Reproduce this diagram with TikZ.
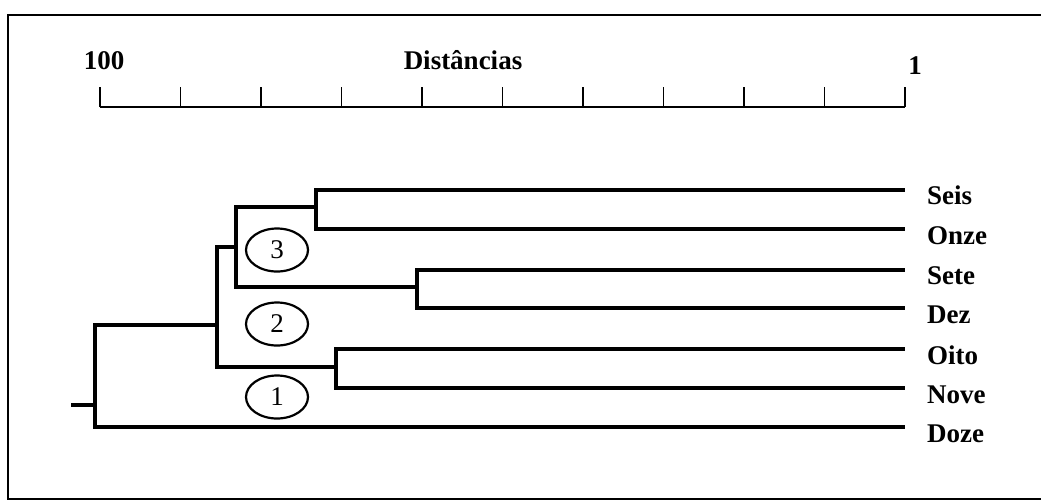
\documentclass[tikz,border=0pt]{standalone}
\usepackage{fontspec}
\setmainfont{Liberation Serif}
\usetikzlibrary{shapes.geometric}
\begin{document}
\begin{tikzpicture}[x=1pt,y=-1pt,
  txt/.style={font=\fontsize{27}{30}\selectfont\bfseries,inner sep=0pt},
  leaflab/.style={txt,anchor=base west},
  branch/.style={line width=3.2pt,line cap=rect,line join=miter},
  axisline/.style={line width=1.8pt},
  clus/.style={ellipse,draw,line width=2.2pt,minimum width=62pt,minimum height=43pt,inner sep=0pt,font=\fontsize{27}{30}\selectfont}
]
\useasboundingbox (0,0) rectangle (1041,501);
% frame
\draw[line width=1.5pt] (1041,15) -- (8,15) -- (8,499) -- (1041,499);
% scale
\node[txt,anchor=base] (l100) at (104,69) {100};
\node[txt,anchor=base] (ldist) at (463,69) {Distâncias};
\node[txt,anchor=base] (l1) at (915,74) {1};
\coordinate (a0) at (100,107);
\coordinate (a1) at (905,107);
\draw[axisline] (a0) -- (a1);
\foreach \i in {0,...,10}{
  \draw[axisline] ({100+80.5*\i},107) -- ({100+80.5*\i},87);
}
% leaves
\coordinate (Seis) at (903,190);
\coordinate (Onze) at (903,229);
\coordinate (Sete) at (903,270);
\coordinate (Dez) at (903,308);
\coordinate (Oito) at (903,349);
\coordinate (Nove) at (903,388);
\coordinate (Doze) at (903,427);
\node[leaflab] (tSeis) at (927,204) {Seis};
\node[leaflab] (tOnze) at (927,244) {Onze};
\node[leaflab] (tSete) at (927,284) {Sete};
\node[leaflab] (tDez) at (927,323) {Dez};
\node[leaflab] (tOito) at (927,364) {Oito};
\node[leaflab] (tNove) at (927,403) {Nove};
\node[leaflab] (tDoze) at (927,442) {Doze};
% junctions
\coordinate (j1) at (316,207);
\coordinate (j2) at (417,287);
\coordinate (j3) at (236,247);
\coordinate (j4) at (336,367);
\coordinate (j5) at (217,325);
\coordinate (root) at (95,405);
\coordinate (stub) at (73,405);
\draw[branch] (Seis) -| (j1) |- (Onze);
\draw[branch] (Sete) -| (j2) |- (Dez);
\draw[branch] (Oito) -| (j4) |- (Nove);
\draw[branch] (j1) -| (j3) |- (j2);
\draw[branch] (j3) -| (j5) |- (j4);
\draw[branch] (j5) -| (root) |- (Doze);
\draw[branch] (stub) -- (root);
% cluster labels
\node[clus] (c3) at (277,250) {3};
\node[clus] (c2) at (277,324) {2};
\node[clus] (c1) at (277,397) {1};
\end{tikzpicture}
\end{document}
